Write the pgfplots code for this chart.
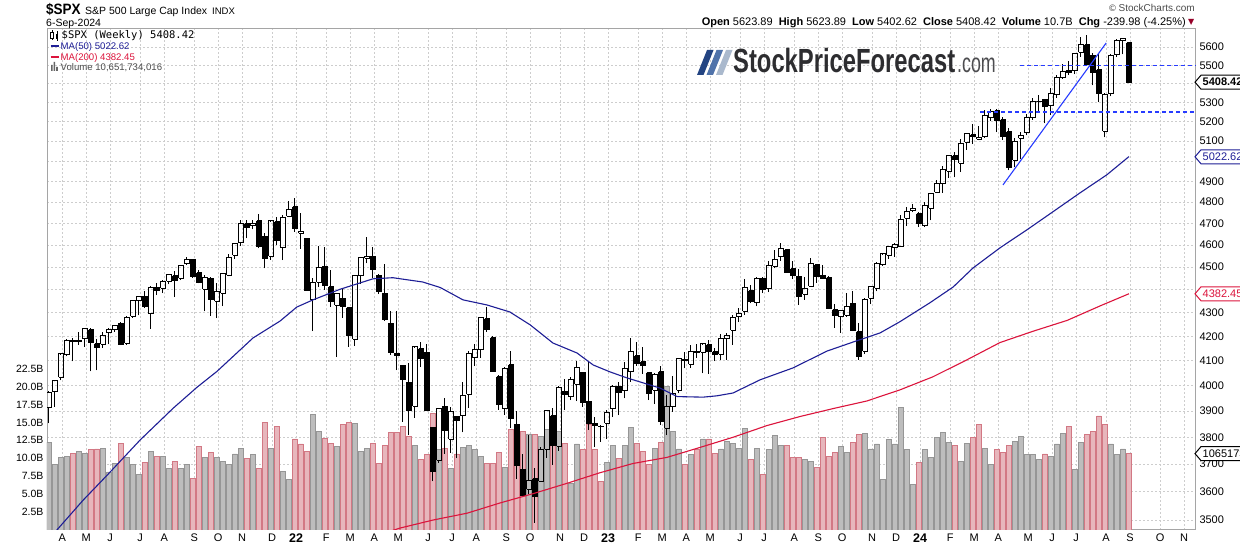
\documentclass[border=0pt]{standalone}
\usepackage{fontspec}
\setmainfont{Liberation Sans}
\newfontfamily\dejavu{DejaVu Sans}
\newfontfamily\dejavumono{DejaVu Sans Mono}
\usepackage{pgfplots}
\usepackage{pgfplotstable}
\pgfplotsset{compat=1.18}

\definecolor{gridc}{RGB}{205,205,205}
\definecolor{framec}{RGB}{165,165,165}
\definecolor{volg}{RGB}{189,189,189}
\definecolor{volgd}{RGB}{150,150,150}
\definecolor{volp}{RGB}{231,182,188}
\definecolor{volpd}{RGB}{210,120,132}
\definecolor{manavy}{RGB}{30,30,150}
\definecolor{macrim}{RGB}{220,20,60}
\definecolor{trendb}{RGB}{40,60,255}
\definecolor{logodark}{RGB}{45,45,48}
\definecolor{slA}{RGB}{35,68,130}
\definecolor{slB}{RGB}{80,115,170}
\definecolor{slC}{RGB}{170,185,205}
\definecolor{dnred}{RGB}{150,0,40}

\newcommand\fs[1]{\fontsize{#1}{#1}\selectfont}

% weekly S&P 500: index, open, high, low, close, volume (billions), up week (1) / down week (0)
\pgfplotstableread{
i o h l c v u
0 3916 3978 3853 3974.5 12.2 1
1 3977 4020 3917 4019.9 9.1 1
2 4034 4129 4021 4128.8 10.1 1
3 4125 4191 4118 4185.5 10.3 1
4 4185 4194 4098 4180.2 10.7 0
5 4185 4218 4165 4181.2 11.0 1
6 4191 4238 4157 4232.6 10.7 1
7 4228 4237 4057 4173.9 11.2 0
8 4169 4188 4061 4155.9 11.3 0
9 4168 4219 4153 4204.1 11.4 1
10 4216 4234 4168 4229.9 8.1 1
11 4229 4249 4220 4247.4 9.3 1
12 4255 4262 4164 4166.5 12.1 0
13 4173 4286 4165 4280.7 10.1 1
14 4285 4355 4279 4352.3 9.1 1
15 4352 4372 4289 4369.6 7.8 1
16 4372 4393 4321 4327.2 9.4 0
17 4296 4415 4233 4411.8 11.0 1
18 4410 4429 4376 4395.3 10.3 0
19 4407 4441 4385 4436.5 10.3 1
20 4437 4470 4424 4468.0 8.6 1
21 4462 4482 4368 4441.7 9.6 0
22 4450 4511 4442 4509.4 8.6 1
23 4514 4546 4513 4535.4 9.1 1
24 4535 4536 4453 4458.6 7.2 0
25 4475 4486 4428 4433.0 11.7 0
26 4403 4465 4306 4455.5 10.1 1
27 4450 4457 4288 4357.0 10.8 0
28 4349 4429 4278 4391.3 10.1 1
29 4385 4475 4329 4471.4 9.6 1
30 4463 4559 4459 4544.9 9.2 1
31 4553 4608 4537 4605.4 10.6 1
32 4610 4718 4595 4697.5 11.4 1
33 4697 4714 4630 4682.9 10.0 0
34 4689 4718 4672 4698.0 10.5 1
35 4712 4744 4585 4594.6 8.6 0
36 4640 4653 4495 4538.4 15.0 0
37 4548 4713 4532 4712.0 11.4 1
38 4707 4731 4600 4620.6 14.5 0
39 4588 4740 4531 4725.8 8.2 1
40 4733 4808 4733 4766.2 7.0 1
41 4778 4819 4662 4677.0 12.7 0
42 4655 4749 4582 4662.9 12.0 0
43 4632 4632 4395 4397.9 11.0 0
44 4357 4453 4223 4431.9 16.1 1
45 4432 4596 4414 4500.5 13.8 1
46 4505 4590 4401 4418.6 12.8 0
47 4412 4489 4327 4349.0 12.1 0
48 4333 4385 4115 4384.7 11.6 1
49 4364 4402 4279 4328.9 14.7 0
50 4322 4325 4157 4204.3 15.0 0
51 4188 4465 4161 4463.1 14.9 1
52 4462 4546 4425 4543.1 11.0 1
53 4541 4637 4517 4545.9 11.4 1
54 4548 4593 4450 4488.3 12.1 0
55 4463 4471 4381 4392.6 9.3 0
56 4385 4513 4267 4271.8 11.8 0
57 4255 4309 4124 4131.9 13.6 0
58 4130 4307 4062 4123.3 13.6 0
59 4081 4081 3859 4023.9 14.4 0
60 4013 4090 3810 3901.4 13.1 0
61 3920 4158 3875 4158.2 11.8 1
62 4150 4178 4074 4108.5 9.9 0
63 4134 4169 3900 3900.9 10.5 0
64 3838 3838 3637 3674.8 16.3 0
65 3715 3913 3705 3911.7 11.2 1
66 3920 3950 3738 3825.3 11.4 0
67 3793 3918 3742 3899.4 8.6 1
68 3880 3880 3722 3863.2 10.6 0
69 3883 4013 3819 3961.6 11.5 1
70 3966 4140 3913 4130.3 11.8 1
71 4112 4167 4080 4145.2 11.2 1
72 4145 4281 4113 4280.2 10.3 1
73 4274 4325 4219 4228.5 9.3 0
74 4195 4203 4057 4057.7 9.3 0
75 4035 4041 3907 3924.3 10.8 0
76 3910 4076 3887 4067.4 8.7 1
77 4083 4140 3837 3873.3 14.0 0
78 3850 3900 3647 3693.2 12.7 0
79 3682 3736 3584 3585.6 13.8 0
80 3609 3807 3591 3639.7 13.4 1
81 3647 3686 3491 3583.1 13.3 0
82 3638 3762 3636 3752.8 13.0 1
83 3755 3905 3723 3901.1 14.0 1
84 3882 3912 3698 3770.6 12.6 0
85 3766 3999 3750 3992.9 13.7 1
86 3978 4028 3906 3965.3 12.1 0
87 3956 4034 3943 4026.1 6.5 1
88 4005 4101 3940 4071.7 12.0 1
89 4053 4053 3918 3934.4 11.2 0
90 3939 4101 3828 3852.4 14.7 0
91 3853 3878 3765 3844.8 11.2 0
92 3843 3846 3783 3839.5 6.8 0
93 3853 3906 3795 3895.1 9.4 1
94 3910 4003 3877 3999.1 11.8 1
95 3999 4016 3885 3972.6 10.0 0
96 3979 4095 3950 4070.6 11.8 1
97 4055 4195 4015 4136.5 14.3 1
98 4120 4176 4079 4090.5 12.1 0
99 4096 4156 4048 4079.1 10.9 0
100 4052 4052 3943 3970.0 9.1 0
101 3982 4049 3928 4045.6 11.4 1
102 4055 4079 3847 3861.6 12.2 0
103 3835 3963 3809 3916.6 20.0 1
104 3917 4040 3899 3971.0 13.8 1
105 3982 4110 3970 4109.3 11.3 1
106 4102 4134 4069 4105.0 9.1 0
107 4085 4164 4072 4137.6 10.5 1
108 4138 4170 4113 4133.5 11.3 0
109 4134 4170 4049 4169.5 12.7 1
110 4166 4187 4048 4136.3 12.7 0
111 4136 4154 4099 4124.1 10.7 0
112 4127 4212 4103 4192.0 11.3 1
113 4191 4213 4104 4205.5 12.4 1
114 4227 4290 4166 4282.4 12.1 1
115 4283 4322 4261 4298.9 11.4 1
116 4308 4448 4293 4409.6 14.2 1
117 4396 4420 4341 4348.3 9.9 0
118 4344 4458 4328 4450.4 11.4 1
119 4450 4456 4385 4399.0 7.7 0
120 4404 4527 4389 4505.4 11.2 1
121 4505 4578 4494 4536.3 13.2 1
122 4547 4607 4528 4582.2 11.8 1
123 4578 4584 4474 4478.0 11.8 0
124 4492 4527 4448 4464.1 10.1 0
125 4459 4490 4335 4369.7 10.1 0
126 4380 4458 4356 4405.7 9.9 1
127 4415 4541 4414 4515.8 9.5 1
128 4510 4515 4431 4457.5 8.7 0
129 4463 4511 4448 4450.3 12.9 0
130 4453 4461 4316 4320.1 10.3 0
131 4314 4338 4238 4288.1 10.8 0
132 4284 4311 4216 4308.5 11.7 1
133 4289 4385 4283 4327.8 10.8 1
134 4342 4394 4223 4224.2 12.2 0
135 4221 4255 4104 4117.4 13.3 0
136 4140 4366 4128 4358.3 13.5 1
137 4364 4418 4337 4415.2 11.3 1
138 4406 4521 4393 4514.0 12.0 1
139 4511 4560 4504 4559.3 7.0 1
140 4554 4595 4537 4594.6 12.6 1
141 4587 4609 4546 4604.4 12.0 1
142 4593 4738 4593 4719.2 17.1 1
143 4725 4778 4687 4754.6 11.2 1
144 4759 4793 4751 4769.8 6.3 1
145 4745 4755 4682 4697.2 9.4 0
146 4690 4802 4682 4783.8 11.2 1
147 4772 4842 4714 4839.8 10.1 1
148 4848 4907 4845 4891.0 12.9 1
149 4888 4975 4845 4958.6 13.6 1
150 4950 5030 4919 5026.6 12.2 1
151 5026 5048 4920 5005.6 11.8 0
152 4989 5111 4946 5088.8 9.6 1
153 5094 5140 5057 5137.1 12.1 1
154 5132 5190 5087 5123.7 12.9 0
155 5111 5179 5104 5117.1 14.7 0
156 5123 5262 5117 5234.2 11.4 1
157 5219 5265 5203 5254.4 9.1 1
158 5258 5264 5146 5204.3 11.2 0
159 5211 5222 5108 5123.4 10.8 0
160 5149 5168 4954 4967.2 11.8 0
161 5005 5114 4969 5100.0 12.3 1
162 5114 5146 5012 5127.8 13.0 1
163 5142 5240 5130 5223.0 10.5 1
164 5221 5325 5211 5303.3 10.5 1
165 5305 5342 5257 5304.7 9.8 1
166 5316 5316 5191 5277.5 10.6 0
167 5283 5375 5234 5347.0 10.3 1
168 5341 5447 5325 5431.6 12.0 1
169 5432 5505 5428 5464.6 13.5 1
170 5473 5523 5448 5460.5 14.5 0
171 5471 5570 5452 5567.2 8.5 1
172 5572 5655 5546 5615.4 12.2 1
173 5614 5670 5497 5505.0 13.3 0
174 5555 5566 5391 5459.1 13.8 0
175 5476 5566 5302 5346.6 15.9 0
176 5151 5350 5119 5344.2 14.7 0
177 5346 5563 5332 5554.3 12.0 1
178 5557 5643 5545 5634.6 10.5 1
179 5637 5651 5560 5648.4 11.3 1
180 5623.89 5623.89 5402.62 5408.42 10.65 0
}\spx

% MA(50)
\pgfplotstableread{
i p
0 3440
1.3 3465
5.7 3570
9.7 3660
15.2 3790
20.7 3912
24.7 3995
28 4057
34 4194
38.5 4265
41.3 4325
44 4356
48.5 4402
54 4448
57.3 4453
62.3 4434
65.2 4410
69 4356
73 4334
76.8 4304
80.2 4249
84 4173
88 4132
90.7 4083
93.5 4055
96.3 4031
101.8 3991
104.7 3957
109 3955
111.3 3960
114 3971
118.5 4023
124 4071
129.7 4140
134 4177
138.5 4215
141.8 4262
146.8 4343
150.7 4412
154 4496
158.5 4587
163 4670
167.3 4754
171.8 4844
176.3 4932
180 5022.62
}\maA

% MA(200)
\pgfplotstableread{
i p
56 3455
58.5 3472
64 3500
69.7 3524
75.2 3560
80.7 3593
86.3 3630
91.8 3668
97.3 3702
103 3725
108.5 3762
114 3800
119.7 3845
125.2 3880
130.7 3910
136.3 3940
141.8 3983
147.3 4035
153 4104
158.5 4175
164 4222
169.7 4268
175.2 4330
180 4382.45
}\maB

\pgfplotsset{
  wick/.style={black, line width=1pt, forget plot, mark=none},
  hollowbody/.style={black, line width=1pt, forget plot, mark=none},
  solidbody/.style={black, fill=black, line width=1pt, forget plot, mark=none},
  logprice/.style={
    y coord trafo/.code={\pgfmathparse{ln(##1)*1000-8000}},
    y coord inv trafo/.code={\pgfmathparse{exp((##1+8000)/1000)}},
  },
}

\begin{document}
\begin{tikzpicture}
\path[use as bounding box] (0pt,0pt) rectangle (1240pt,546pt);
\fill[white] (0pt,0pt) rectangle (1240pt,546pt);

% ---- axis 1: frame, grid, price and month labels
\begin{axis}[scale only axis, width=1149pt, height=501pt, at={(47pt,16pt)}, anchor=south west,
  xmin=-0.333, xmax=191.17,
  logprice, ymin=3465.4, ymax=5702,
  ytick={3500,3600,3700,3800,3900,4000,4100,4200,4300,4400,4500,4600,4700,4800,4900,5000,5100,5200,5300,5400,5500,5600},
  yticklabels={3500,3600,3700,3800,3900,4000,4100,4200,4300,{},4500,4600,4700,4800,4900,{},5100,5200,5300,{},5500,5600},
  yticklabel pos=right,
  xtick={2.2,6.2,10.2,15.2,19.2,24.2,28.2,32.2,37.2,41.2,46.2,50.2,54.2,58.2,63.2,67.2,71.2,76.2,80.2,85.2,89.2,93.2,98.2,102.2,106.2,110.2,115.2,119.2,124.2,128.2,132.2,137.2,141.2,145.2,150.2,154.2,158.2,163.2,167.2,171.2,176.2,180.2,185.2,189.2},
  xticklabels={A,M,J,J,A,S,O,N,D,{\fs{12.5}\bfseries 22},F,M,A,M,J,J,A,S,O,N,D,{\fs{12.5}\bfseries 23},F,M,A,M,J,J,A,S,O,N,D,{\fs{12.5}\bfseries 24},F,M,A,M,J,J,A,S,O,N},
  grid=major, major grid style={draw=gridc, line width=0.8pt, dash pattern=on 2pt off 2pt},
  axis line style={draw=framec, line width=1pt},
  major tick length=0pt, minor tick length=0pt,
  yticklabel style={font=\fs{11}, text=black},
  xticklabel style={font=\fs{11}, text=black},
]
\addplot[draw=none, forget plot] coordinates {(0,4000) (180,5000)};
\end{axis}

% ---- axis 2: volume
\begin{axis}[scale only axis, width=1149pt, height=501pt, at={(47pt,16pt)}, anchor=south west,
  xmin=-0.333, xmax=191.17, ymin=0, ymax=69.87,
  axis line style={draw=none}, xtick=\empty,
  ytick={2.5,5,7.5,10,12.5,15,17.5,20,22.5},
  yticklabels={2.5B,5.0B,7.5B,10.0B,12.5B,15.0B,17.5B,20.0B,22.5B},
  yticklabel pos=left, major tick length=0pt,
  yticklabel style={font=\fs{10.5}, text=black},
]
\addplot[ybar, bar width=4.2pt, bar shift=0pt, fill=volg, draw=volgd, line width=0.8pt,
  restrict y to domain=0.01:100, forget plot]
  table[x=i, y expr=\thisrow{v}*\thisrow{u}] {\spx};
\addplot[ybar, bar width=4.2pt, bar shift=0pt, fill=volp, draw=volpd, line width=0.8pt,
  restrict y to domain=0.01:100, forget plot]
  table[x=i, y expr=\thisrow{v}*(1-\thisrow{u})] {\spx};
\end{axis}

% ---- axis 3: candles, moving averages, annotations
\begin{axis}[scale only axis, width=1149pt, height=501pt, at={(47pt,16pt)}, anchor=south west,
  xmin=-0.333, xmax=191.17,
  logprice, ymin=3465.4, ymax=5702, hide axis]
\pgfplotsforeachungrouped \rowk in {0,...,180}{%
  \pgfplotstablegetelem{\rowk}{i}\of\spx \let\CandI\pgfplotsretval
  \pgfplotstablegetelem{\rowk}{o}\of\spx \let\CandO\pgfplotsretval
  \pgfplotstablegetelem{\rowk}{h}\of\spx \let\CandH\pgfplotsretval
  \pgfplotstablegetelem{\rowk}{l}\of\spx \let\CandL\pgfplotsretval
  \pgfplotstablegetelem{\rowk}{c}\of\spx \let\CandC\pgfplotsretval
  \pgfmathsetmacro{\CandXa}{\CandI-0.36}%
  \pgfmathsetmacro{\CandXb}{\CandI+0.36}%
  \pgfmathtruncatemacro{\CandDown}{\CandC<\CandO}%
  \ifnum\CandDown=1
    \edef\CandCmd{%
      \noexpand\addplot[wick] coordinates {(\CandI,\CandL) (\CandI,\CandH)};
      \noexpand\addplot[solidbody] coordinates {(\CandXa,\CandO) (\CandXb,\CandO) (\CandXb,\CandC) (\CandXa,\CandC) (\CandXa,\CandO)};}%
  \else
    \edef\CandCmd{%
      \noexpand\addplot[wick] coordinates {(\CandI,\CandL) (\CandI,\CandO)};
      \noexpand\addplot[wick] coordinates {(\CandI,\CandC) (\CandI,\CandH)};
      \noexpand\addplot[hollowbody] coordinates {(\CandXa,\CandO) (\CandXb,\CandO) (\CandXb,\CandC) (\CandXa,\CandC) (\CandXa,\CandO)};}%
  \fi
  \CandCmd
}
\addplot[manavy, line width=1.1pt, forget plot] table[x=i, y=p] {\maA};
\addplot[macrim, line width=1.1pt, forget plot] table[x=i, y=p] {\maB};
\addplot[trendb, line width=1.1pt, forget plot] coordinates {(159,4883) (176.2,5623)};
\addplot[trendb, line width=1.3pt, dash pattern=on 4pt off 3pt, forget plot] coordinates {(161.8,5497) (191.2,5497)};
\addplot[trendb, line width=1.3pt, dash pattern=on 4pt off 3pt, forget plot] coordinates {(155.2,5250) (191.2,5250)};
\end{axis}

\begin{scope}[x=1pt,y=1pt]
% ---- value tags on the right
\newcommand\ptag[4]{%
  \draw[#3, line width=1pt, fill=white] (1195,#1) -- (1201,#1+7) -- (1250,#1+7) -- (1250,#1-7) -- (1201,#1-7) -- cycle;
  \node[anchor=west, text=#3, font=\fs{11}#4, inner sep=0pt] at (1202.5,#1) {#2};}
\ptag{463.8}{5408.42}{black}{\bfseries}
\ptag{389.2}{5022.62}{manavy}{}
\ptag{252.2}{4382.45}{macrim}{}
\ptag{92.4}{1065173}{black}{}

% ---- header
\node[anchor=base west, inner sep=0pt] at (46,531) {\scalebox{0.9}[1]{\fs{15}\bfseries \$SPX}};
\node[anchor=base west, inner sep=0pt, font=\fs{10.5}] at (85,531) {S\&P 500 Large Cap Index};
\node[anchor=base west, inner sep=0pt, font=\fs{9.5}] at (212,531) {INDX};
\node[anchor=base west, inner sep=0pt, font=\fs{10.5}] at (46,519) {6-Sep-2024};
\node[anchor=base east, inner sep=0pt, font=\fs{10}, text=black!70] at (1195,534) {{\dejavu\fs{9}©}\,StockCharts.com};
\node[anchor=base east, inner sep=0pt, font=\fs{11}] at (1186,520)
  {\textbf{Open} 5623.89\ \ \textbf{High} 5623.89\ \ \textbf{Low} 5402.62\ \ \textbf{Close} 5408.42\ \ \textbf{Volume} 10.7B\ \ \textbf{Chg} -239.98 (-4.25\%)};
\node[anchor=base west, inner sep=0pt, font=\dejavu\fs{8}, text=dnred] at (1188,521) {▼};

% ---- legend
\draw[black, line width=0.8pt] (52,506) -- (52,516);
\draw[black, line width=0.8pt, fill=white] (50.8,508) rectangle (53.2,514);
\draw[black, line width=0.8pt] (57,505) -- (57,515);
\fill[black] (55.8,507) rectangle (58.2,512);
\node[anchor=base west, inner sep=0pt, font=\dejavumono\fs{10.5}] at (61.5,507) {\$SPX (Weekly) 5408.42};
\draw[manavy, line width=2pt] (50.5,500) -- (59,500);
\node[anchor=base west, inner sep=0pt, font=\fs{9.6}, text=manavy] at (60.5,496.5) {MA(50) 5022.62};
\draw[macrim, line width=2pt] (50.5,489) -- (59,489);
\node[anchor=base west, inner sep=0pt, font=\fs{9.6}, text=macrim] at (60.5,485.5) {MA(200) 4382.45};
\fill[black!60] (51,475) rectangle (52.6,481) (53.6,475) rectangle (55.2,484) (56.2,475) rectangle (57.8,479);
\node[anchor=base west, inner sep=0pt, font=\fs{9.6}, text=black!70] at (60.5,475) {Volume 10,651,734,016};

% ---- watermark logo
\fill[slA] (697,471) -- (703.5,471) -- (713.5,496) -- (707,496) -- cycle;
\fill[slB] (706.5,471) -- (713,471) -- (723,496) -- (716.5,496) -- cycle;
\fill[slC] (716,471) -- (722.5,471) -- (732.5,496) -- (726,496) -- cycle;
\node[anchor=base west, inner sep=0pt, text=logodark] at (733,473)
  {\scalebox{0.71}[1]{\fs{33.5}\bfseries StockPriceForecast}};
\node[anchor=base west, inner sep=0pt, text=logodark!85] at (957,473)
  {\scalebox{0.66}[1]{\fs{27}.com}};
\end{scope}
\end{tikzpicture}
\end{document}
